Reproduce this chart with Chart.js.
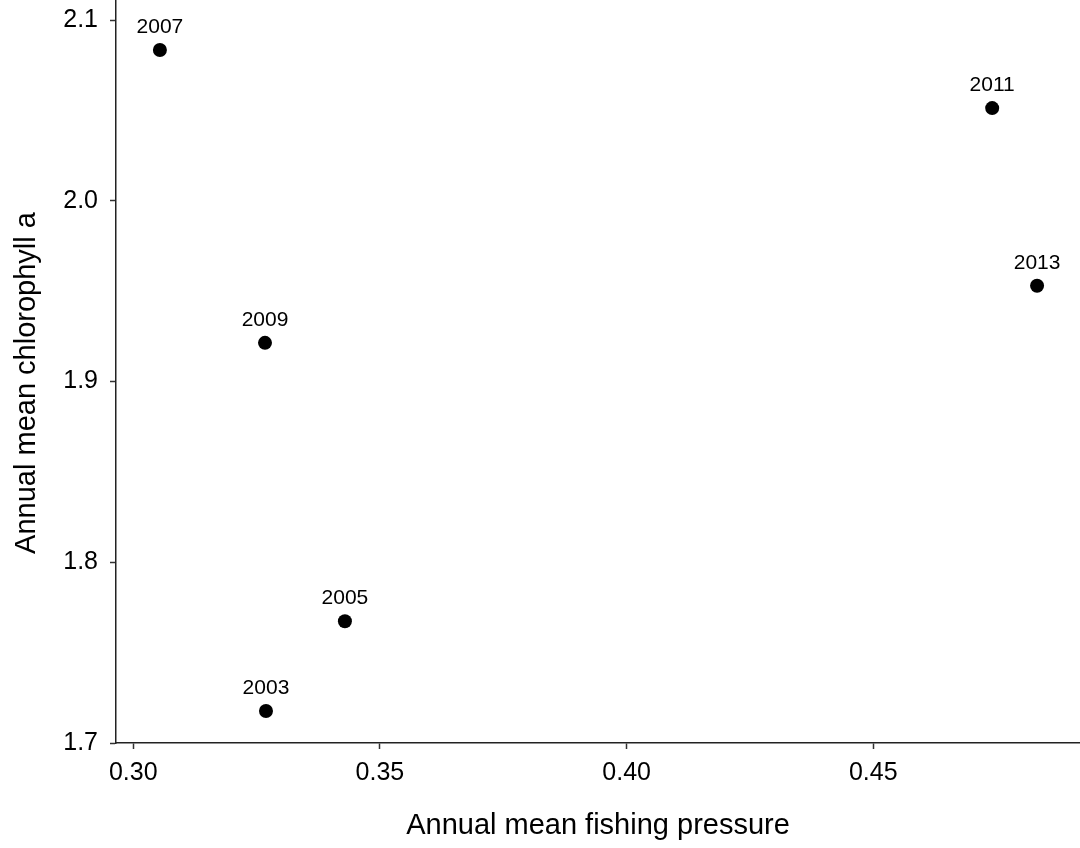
<!DOCTYPE html>
<html>
<head>
<meta charset="utf-8">
<script src="https://cdn.jsdelivr.net/npm/chart.js@4.4.1/dist/chart.umd.min.js"></script>
<style>
  html, body { margin: 0; padding: 0; background: #fff; }
  #wrap { width: 1080px; height: 848px; position: relative; }
</style>
</head>
<body>
<div id="wrap"><canvas id="myChart"></canvas></div>
<script>
// data
const years = ["2003", "2005", "2007", "2009", "2011", "2013"];
const fishingPressure = [0.3269, 0.3429, 0.3054, 0.3267, 0.4741, 0.4832];
const chlorophyll = [1.7177, 1.7674, 2.0834, 1.9214, 2.0513, 1.9530];
const xTicks = [0.30, 0.35, 0.40, 0.45];
const yTicks = [1.7, 1.8, 1.9, 2.0, 2.1];

const FONT = "'Liberation Sans', Arial, sans-serif";

// year labels above each point
const yearLabels = {
    id: 'yearLabels',
    afterDatasetsDraw(chart) {
        const ctx = chart.ctx;
        const meta = chart.getDatasetMeta(0);
        ctx.save();
        ctx.font = "21px " + FONT;
        ctx.fillStyle = '#000';
        ctx.textAlign = 'center';
        ctx.textBaseline = 'middle';
        meta.data.forEach((pt, i) => {
            ctx.fillText(years[i], pt.x, pt.y - 23);
        });
        ctx.restore();
    }
};

// y axis title, placed by hand
const yTitle = {
    id: 'yTitle',
    afterDraw(chart) {
        const ctx = chart.ctx;
        ctx.save();
        ctx.translate(27, 383);
        ctx.rotate(-Math.PI / 2);
        ctx.font = "29px " + FONT;
        ctx.fillStyle = '#000';
        ctx.textAlign = 'center';
        ctx.textBaseline = 'middle';
        ctx.fillText("Annual mean chlorophyll a", 0, 0);
        ctx.restore();
    }
};

const points = fishingPressure.map((x, i) => ({ x: x, y: chlorophyll[i] }));

const ctx = document.getElementById('myChart').getContext('2d');
const myChart = new Chart(ctx, {
    type: 'scatter',
    data: {
        datasets: [{
            data: points,
            backgroundColor: '#000',
            borderColor: '#000',
            pointRadius: 7,
            pointBorderWidth: 0
        }]
    },
    options: {
        responsive: true,
        maintainAspectRatio: false,
        animation: false,
        layout: { padding: 0, autoPadding: false },
        plugins: {
            legend: { display: false },
            tooltip: { enabled: false }
        },
        scales: {
            x: {
                type: 'linear',
                min: 0.2965,
                max: 0.4919,
                afterBuildTicks: (scale) => { scale.ticks = xTicks.map(v => ({ value: v })); },
                afterFit: (scale) => {
                    scale.height = 105;
                    scale.paddingLeft = 0;
                    scale.paddingRight = 0;
                },
                ticks: {
                    color: '#000',
                    font: { family: FONT, size: 25 },
                    padding: 9,
                    callback: (v) => Number(v).toFixed(2)
                },
                grid: {
                    drawOnChartArea: false,
                    drawTicks: true,
                    tickLength: 6,
                    color: '#333',
                    tickWidth: 1.5
                },
                border: { display: true, color: '#222', width: 1.5 },
                title: {
                    display: true,
                    text: 'Annual mean fishing pressure',
                    color: '#000',
                    font: { family: FONT, size: 29 },
                    padding: { top: 0, bottom: 5 }
                }
            },
            y: {
                type: 'linear',
                min: 1.7,
                max: 2.1111,
                afterBuildTicks: (scale) => { scale.ticks = yTicks.map(v => ({ value: v })); },
                afterFit: (scale) => {
                    scale.width = 116;
                    scale.paddingTop = 0;
                    scale.paddingBottom = 0;
                },
                ticks: {
                    color: '#000',
                    font: { family: FONT, size: 25 },
                    padding: 12,
                    callback: (v) => Number(v).toFixed(1)
                },
                grid: {
                    drawOnChartArea: false,
                    drawTicks: true,
                    tickLength: 6,
                    color: '#333',
                    tickWidth: 1.5
                },
                border: { display: true, color: '#222', width: 1.5 }
            }
        }
    },
    plugins: [yearLabels, yTitle]
});
</script>
</body>
</html>
